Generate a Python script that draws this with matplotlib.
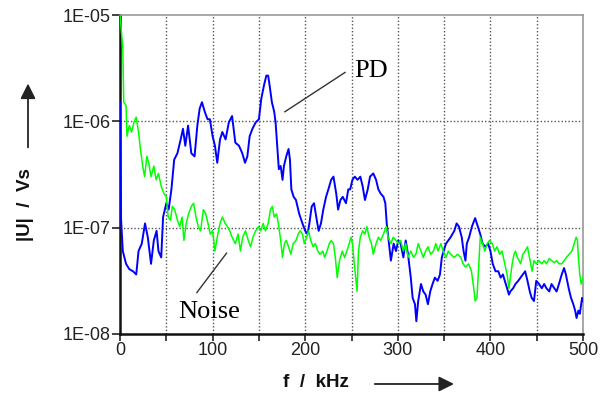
import numpy as np
import matplotlib
matplotlib.use("Agg")
import matplotlib.pyplot as plt
from matplotlib.patches import FancyArrowPatch
from matplotlib.ticker import FixedLocator, FuncFormatter

# PD spectrum, f in kHz, log10(|U| / Vs)
pd_f = [0, 1, 3, 6.5, 10, 14, 17.5, 20, 23.5, 27, 30, 33.5, 36.5, 39.5, 41.5, 44.5,
        46.5, 50, 52.5, 55.5, 58.5, 62, 65.5, 68, 70.5, 73.5, 77, 80.5, 83.5, 86,
        88.5, 91.5, 94.5, 97, 100, 102.5, 105, 108, 110.5, 114, 117.5, 121, 124.5,
        128.5, 132, 135, 137.5, 140, 143, 146.5, 150, 152.5, 155.5, 158, 160, 161.5,
        164, 166.5, 168, 170, 171.5, 173.5, 175.5, 177, 179.5, 182, 183.5, 185,
        187.5, 190, 193.5, 197, 200, 202.5, 204.5, 207, 209.5, 212.5, 214.5, 217,
        219.5, 222.5, 225, 228, 230.5, 233.5, 235.5, 238, 240.5, 244, 246.5, 248.5,
        251, 253.5, 256.5, 259.5, 262, 264.5, 267.5, 270, 273.5, 276.5, 279, 281.5,
        284.5, 286.5, 288, 290.5, 292.5, 295.5, 298, 300.5, 303, 306, 308.5, 311,
        314, 316, 318.5, 320, 322, 325, 327.5, 330, 332.5, 335, 337.5, 340, 343,
        345.5, 347.5, 349.5, 352, 354.5, 357, 361, 363.5, 366, 369, 371, 373, 374.5,
        377, 380, 383.5, 386.5, 389, 391.5, 394.5, 397.5, 400, 402.5, 405.5, 408.5,
        411, 413.5, 415.5, 418, 420, 421.5, 424.5, 427, 430, 432.5, 435, 437.5, 440,
        442.5, 444.5, 447, 449.5, 452.5, 455.5, 458, 460.5, 463.5, 466, 469, 471.5,
        474, 477, 479.5, 481.5, 484.5, 487, 489.5, 491.5, 493, 495, 496.5, 499, 500]
pd_log = [-5.83, -6.9, -7.22, -7.34, -7.39, -7.41, -7.44, -7.22, -7.15, -6.96, -7.09,
          -7.34, -7.12, -7.03, -7.22, -7.28, -6.9, -6.77, -6.83, -6.64, -6.36, -6.30,
          -6.17, -6.07, -6.23, -6.04, -6.30, -6.33, -6.04, -5.88, -5.82, -5.91, -5.98,
          -5.98, -6.14, -6.23, -6.39, -6.17, -6.10, -6.17, -6.01, -5.95, -6.20, -6.23,
          -6.30, -6.39, -6.33, -6.14, -6.07, -6.01, -5.98, -5.79, -5.66, -5.57, -5.57,
          -5.66, -5.82, -5.91, -6.01, -6.26, -6.45, -6.42, -6.55, -6.42, -6.33, -6.26,
          -6.36, -6.64, -6.71, -6.74, -6.87, -6.96, -7.03, -7.06, -6.96, -6.80, -6.77,
          -6.93, -7.03, -6.96, -6.83, -6.71, -6.64, -6.55, -6.52, -6.68, -6.83, -6.74,
          -6.71, -6.77, -6.64, -6.64, -6.55, -6.52, -6.55, -6.52, -6.61, -6.74, -6.64,
          -6.52, -6.49, -6.55, -6.64, -6.68, -6.71, -6.77, -6.96, -7.15, -7.31, -7.15,
          -7.22, -7.12, -7.15, -7.28, -7.12, -7.25, -7.47, -7.66, -7.72, -7.88, -7.69,
          -7.53, -7.60, -7.63, -7.72, -7.60, -7.53, -7.47, -7.50, -7.44, -7.28, -7.22,
          -7.15, -7.12, -7.09, -7.03, -6.96, -6.99, -7.09, -7.22, -7.31, -7.15, -7.09,
          -6.99, -6.91, -6.99, -7.06, -7.15, -7.18, -7.15, -7.22, -7.34, -7.41, -7.41,
          -7.47, -7.44, -7.50, -7.57, -7.63, -7.60, -7.57, -7.53, -7.50, -7.47, -7.44,
          -7.41, -7.50, -7.60, -7.66, -7.69, -7.50, -7.53, -7.57, -7.53, -7.57, -7.60,
          -7.53, -7.57, -7.60, -7.53, -7.44, -7.38, -7.44, -7.57, -7.66, -7.72, -7.78,
          -7.85, -7.78, -7.81, -7.66, -7.69]

# Noise spectrum
noise_f = [0, 3, 4, 6.5, 7.5, 10, 12.5, 15, 17.5, 20, 22, 24.5, 26.5, 29, 31, 33.5,
           36.5, 39, 41.5, 44.5, 47.5, 50, 52, 54.5, 56.5, 59, 62, 64.5, 67, 69, 71.5,
           74, 77, 79.5, 82, 84.5, 87, 90, 92.5, 95, 97.5, 100, 102.5, 105, 108, 110.5,
           113.5, 116, 118.5, 121, 124.5, 127.5, 130, 132.5, 135.5, 138.5, 141, 143.5,
           146.5, 149.5, 152, 154.5, 157, 160, 162.5, 164.5, 166.5, 169, 171, 173.5,
           175.5, 177.5, 179.5, 182, 184.5, 187, 190, 192.5, 194.5, 197, 199, 201.5,
           203.5, 206, 208.5, 211, 213.5, 216, 219, 221, 223.5, 226, 228, 230.5, 232.5,
           234.5, 237, 240, 242.5, 245, 247.5, 249.5, 251, 253, 254.5, 256, 257.5,
           259.5, 262, 264.5, 266.5, 269, 271.5, 273.5, 276.5, 279, 281.5, 284.5, 287.5,
           289.5, 292.5, 295, 298, 300.5, 303, 306, 308.5, 311, 314, 317, 319.5, 322,
           325, 327.5, 330, 332.5, 335.5, 338.5, 341, 343.5, 346.5, 349, 352, 354.5,
           357, 361, 364.5, 368, 370.5, 373, 376.5, 379.5, 382, 383.5, 385.5, 387.5,
           389, 391.5, 394, 396.5, 399, 402, 404.5, 407, 410, 412.5, 415.5, 418, 420,
           421.5, 423.5, 425.5, 427, 429, 431, 432.5, 435, 437.5, 440, 441.5, 443.5,
           445, 447, 449.5, 452.5, 455.5, 458, 460.5, 463.5, 466, 469, 471.5, 474, 477,
           479.5, 482, 485, 488, 490.5, 492.5, 494, 495, 496.5, 498, 500]
noise_log = [-5.0, -5.31, -5.82, -5.85, -6.14, -6.04, -6.10, -6.01, -5.96, -6.10, -6.26,
             -6.42, -6.52, -6.33, -6.39, -6.52, -6.42, -6.55, -6.49, -6.61, -6.68, -6.71,
             -6.90, -6.93, -6.80, -6.83, -6.93, -6.99, -6.90, -7.12, -6.96, -6.87, -6.80,
             -6.77, -6.90, -6.99, -7.03, -6.83, -6.87, -6.96, -7.06, -7.03, -7.22, -7.09,
             -6.96, -6.90, -6.96, -6.99, -7.03, -7.09, -7.15, -7.06, -7.22, -7.09, -7.03,
             -7.12, -7.18, -7.09, -7.03, -6.99, -7.03, -6.96, -7.03, -6.96, -6.83, -6.80,
             -6.90, -6.87, -6.96, -7.12, -7.28, -7.15, -7.12, -7.18, -7.25, -7.15, -7.12,
             -7.06, -7.03, -7.06, -7.15, -7.09, -7.03, -7.12, -7.18, -7.15, -7.22, -7.25,
             -7.22, -7.28, -7.22, -7.15, -7.12, -7.15, -7.28, -7.47, -7.31, -7.22, -7.28,
             -7.22, -7.15, -7.09, -7.15, -7.34, -7.47, -7.60, -7.22, -7.09, -7.03, -7.06,
             -6.99, -7.09, -7.15, -7.25, -7.15, -7.09, -7.12, -7.06, -6.99, -7.09, -7.15,
             -7.09, -7.12, -7.15, -7.12, -7.22, -7.15, -7.28, -7.22, -7.28, -7.25, -7.15,
             -7.22, -7.28, -7.22, -7.18, -7.25, -7.22, -7.15, -7.22, -7.15, -7.22, -7.28,
             -7.22, -7.25, -7.28, -7.25, -7.28, -7.34, -7.37, -7.34, -7.41, -7.57, -7.69,
             -7.66, -7.34, -7.09, -7.15, -7.22, -7.15, -7.12, -7.15, -7.22, -7.18, -7.25,
             -7.22, -7.34, -7.44, -7.57, -7.47, -7.34, -7.25, -7.22, -7.28, -7.31, -7.34,
             -7.25, -7.22, -7.18, -7.25, -7.34, -7.41, -7.31, -7.34, -7.31, -7.34, -7.31,
             -7.34, -7.29, -7.31, -7.33, -7.31, -7.34, -7.34, -7.31, -7.28, -7.25, -7.22,
             -7.15, -7.09, -7.12, -7.28, -7.44, -7.53, -7.47]

x_ticks = [0, 100, 200, 300, 400, 500]
y_ticks = [1e-8, 1e-7, 1e-6, 1e-5]

pd_u = 10.0 ** np.array(pd_log)
noise_u = 10.0 ** np.array(noise_log)

fig = plt.figure(figsize=(6.01, 3.94), dpi=100)
ax = fig.add_axes([0.1997, 0.1523, 0.7704, 0.8096])

ax.plot(pd_f, pd_u, color="#0000ff", lw=1.4, zorder=3)
ax.plot(noise_f, noise_u, color="#00ff00", lw=1.1, zorder=3)

ax.set_yscale("log")
ax.set_xlim(0, 500)
ax.set_ylim(1e-8, 1e-5)

ax.xaxis.set_major_locator(FixedLocator(x_ticks))
ax.xaxis.set_minor_locator(FixedLocator([50, 150, 250, 350, 450]))
ax.yaxis.set_major_locator(FixedLocator(y_ticks))
ax.yaxis.set_minor_locator(FixedLocator([]))
ax.yaxis.set_major_formatter(FuncFormatter(lambda v, p: "1E-%02d" % round(-np.log10(v))))

ax.tick_params(axis="both", which="both", direction="out", labelsize=13,
               labelfontfamily="Liberation Sans", colors="#222222")
ax.tick_params(axis="x", which="major", length=5, width=1.2, pad=1)
ax.tick_params(axis="x", which="minor", length=5, width=1.2)
ax.tick_params(axis="y", length=6, width=1.2, pad=1)

for x in [50, 100, 150, 200, 250, 300, 350, 400, 450]:
    ax.axvline(x, color="#555555", lw=1.0, ls=(0, (1, 1.5)), zorder=1)
for y in [1e-7, 1e-6]:
    ax.axhline(y, color="#555555", lw=1.0, ls=(0, (1, 1.5)), zorder=1)

ax.spines["left"].set_color("#111111")
ax.spines["left"].set_linewidth(1.8)
ax.spines["bottom"].set_color("#111111")
ax.spines["bottom"].set_linewidth(1.8)
for s in ["top", "right"]:
    ax.spines[s].set_color("#999999")
    ax.spines[s].set_linewidth(1.2)

# leader lines and labels
ax.plot([178, 243], [10 ** -5.91, 10 ** -5.54], color="#333333", lw=1.0, zorder=4)
ax.plot([115, 83], [10 ** -7.24, 10 ** -7.61], color="#333333", lw=1.0, zorder=4)
ax.text(253, 10 ** -5.53, "PD", family="Liberation Serif", fontsize=19,
        ha="left", va="center", color="#000000")
ax.text(96, 10 ** -7.79, "Noise", family="Liberation Serif", fontsize=19,
        ha="center", va="center", color="#000000")

# axis labels with arrows
fig.text(0.043, 0.482, "|U|  /  Vs", rotation=90, ha="center", va="center",
         family="Liberation Sans", fontweight="bold", fontsize=13.5, color="#111111")
fig.text(0.526, 0.028, "f  /  kHz", ha="center", va="center",
         family="Liberation Sans", fontweight="bold", fontsize=13.5, color="#111111")
arrow = dict(arrowstyle="-|>,head_length=0.7,head_width=0.35", color="#222222",
             lw=1.3, mutation_scale=13, transform=fig.transFigure)
fig.add_artist(FancyArrowPatch((0.0466, 0.619), (0.0466, 0.795), **arrow))
fig.add_artist(FancyArrowPatch((0.619, 0.0254), (0.760, 0.0254), **arrow))

fig.savefig("out.png", dpi=100)
